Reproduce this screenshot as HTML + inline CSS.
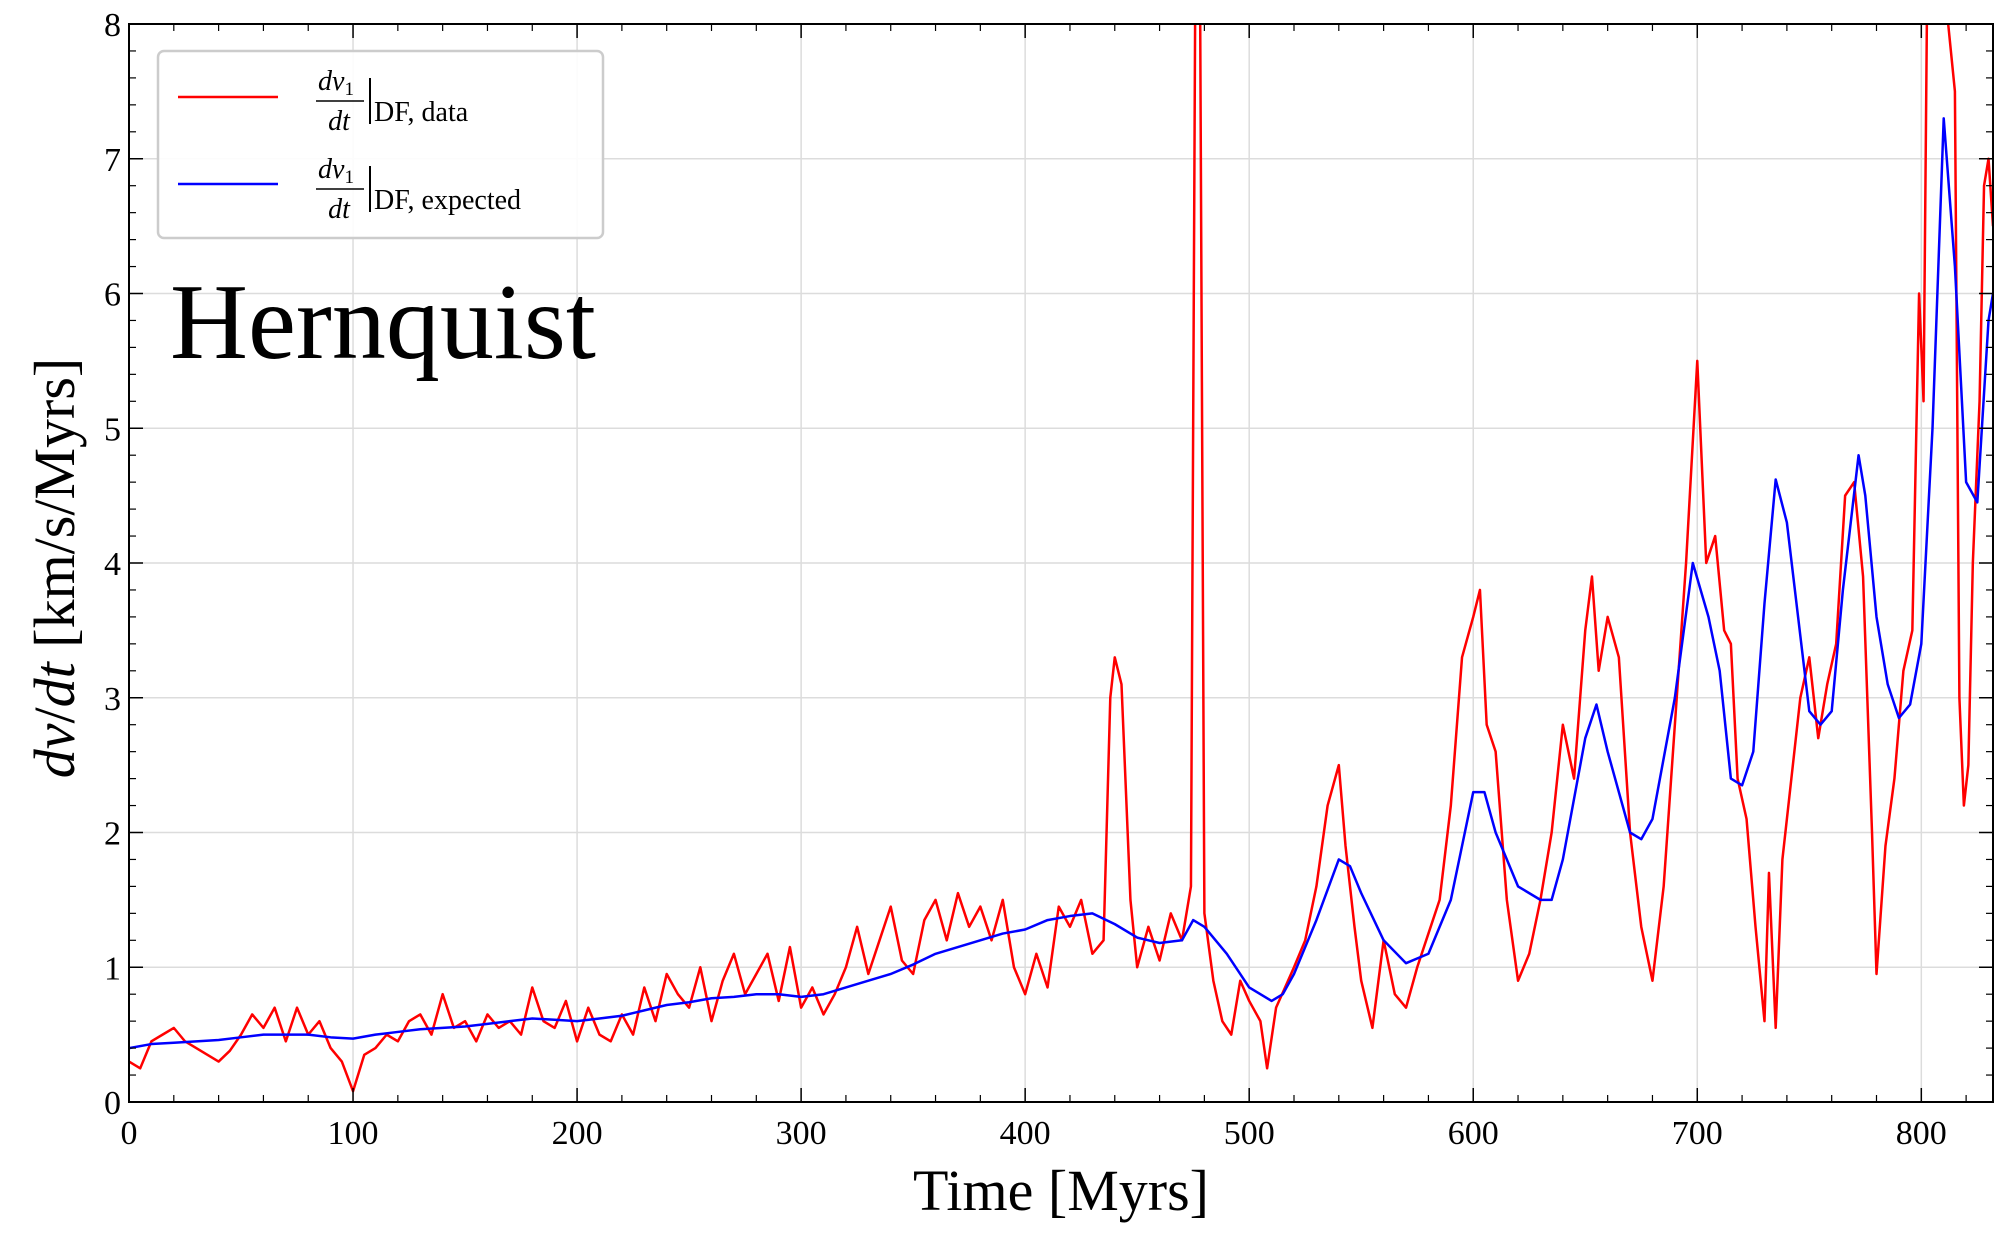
<!DOCTYPE html>
<html><head><meta charset="utf-8"><style>
html,body{margin:0;padding:0;background:#fff;}
svg{display:block;font-family:"Liberation Serif",serif;}
</style></head><body>
<svg id="chart" width="2003" height="1239" viewBox="0 0 2003 1239" xmlns="http://www.w3.org/2000/svg">
<defs><clipPath id="plotclip"><rect x="129" y="24" width="1864" height="1078"/></clipPath></defs>
<rect x="0" y="0" width="2003" height="1239" fill="#fff"/>
<g id="grid"></g>
<g id="series" clip-path="url(#plotclip)"></g>
<rect x="129" y="24" width="1864" height="1078" fill="none" stroke="#000" stroke-width="2"/>
<g id="ticks"></g>
<text x="1061" y="1210" font-size="58" text-anchor="middle">Time [Myrs]</text>
<text transform="translate(74,568) rotate(-90)" font-size="58" text-anchor="middle"><tspan font-style="italic">dv</tspan>/<tspan font-style="italic">dt</tspan> [km/s/Myrs]</text>
<text x="170" y="358" font-size="108">Hernquist</text>
<g>
<rect x="158" y="51" width="445" height="187" rx="6" fill="#fff" fill-opacity="0.9" stroke="#ccc" stroke-width="2.5"/>
<line x1="178" y1="97" x2="278" y2="97" stroke="#f00" stroke-width="2.5"/>
<g font-size="28">
<text x="336" y="90" font-style="italic" text-anchor="middle">dv<tspan font-size="19" dy="5" font-style="normal">1</tspan></text>
<line x1="316" y1="101" x2="364" y2="101" stroke="#000" stroke-width="1.5"/>
<text x="339" y="130" font-style="italic" text-anchor="middle">dt</text>
<line x1="370" y1="78" x2="370" y2="124" stroke="#000" stroke-width="2"/>
<text x="374" y="121">DF, data</text>
</g>
<line x1="178" y1="184" x2="278" y2="184" stroke="#00f" stroke-width="2.5"/>
<g font-size="28">
<text x="336" y="178" font-style="italic" text-anchor="middle">dv<tspan font-size="19" dy="5" font-style="normal">1</tspan></text>
<line x1="316" y1="189" x2="364" y2="189" stroke="#000" stroke-width="1.5"/>
<text x="339" y="218" font-style="italic" text-anchor="middle">dt</text>
<line x1="370" y1="166" x2="370" y2="212" stroke="#000" stroke-width="2"/>
<text x="374" y="209">DF, expected</text>
</g>
</g>
</svg>
<script>
const xTicks=[0,100,200,300,400,500,600,700,800];
const yTicks=[0,1,2,3,4,5,6,7,8];
const redT=[0,5,10,15,20,25,30,35,40,45,50,55,60,65,70,75,80,85,90,95,100,105,110,115,120,125,130,135,140,145,150,155,160,165,170,175,180,185,190,195,200,205,210,215,220,225,230,235,240,245,250,255,260,265,270,275,280,285,290,295,300,305,310,315,320,325,330,335,340,345,350,355,360,365,370,375,380,385,390,395,400,405,410,415,420,425,430,435,438,440,443,447,450,455,460,465,470,474,476,478,480,484,488,492,496,500,505,508,512,516,520,525,530,535,540,543,547,550,555,560,565,570,575,580,585,590,595,600,603,606,610,615,620,625,630,635,640,645,650,653,656,660,665,670,675,680,685,690,695,700,704,708,712,715,718,722,726,730,732,735,738,742,746,750,754,758,762,766,770,774,778,780,784,788,792,796,799,801,803,806,809,812,815,817,819,821,823,826,828,830,832];
const redV=[0.3,0.25,0.45,0.5,0.55,0.45,0.4,0.35,0.3,0.38,0.5,0.65,0.55,0.7,0.45,0.7,0.5,0.6,0.4,0.3,0.08,0.35,0.4,0.5,0.45,0.6,0.65,0.5,0.8,0.55,0.6,0.45,0.65,0.55,0.6,0.5,0.85,0.6,0.55,0.75,0.45,0.7,0.5,0.45,0.65,0.5,0.85,0.6,0.95,0.8,0.7,1.0,0.6,0.9,1.1,0.8,0.95,1.1,0.75,1.15,0.7,0.85,0.65,0.8,1.0,1.3,0.95,1.2,1.45,1.05,0.95,1.35,1.5,1.2,1.55,1.3,1.45,1.2,1.5,1.0,0.8,1.1,0.85,1.45,1.3,1.5,1.1,1.2,3.0,3.3,3.1,1.5,1.0,1.3,1.05,1.4,1.2,1.6,8.5,8.5,1.4,0.9,0.6,0.5,0.9,0.75,0.6,0.25,0.7,0.85,1.0,1.2,1.6,2.2,2.5,1.9,1.3,0.9,0.55,1.2,0.8,0.7,1.0,1.25,1.5,2.2,3.3,3.6,3.8,2.8,2.6,1.5,0.9,1.1,1.5,2.0,2.8,2.4,3.5,3.9,3.2,3.6,3.3,2.0,1.3,0.9,1.6,2.8,4.0,5.5,4.0,4.2,3.5,3.4,2.4,2.1,1.3,0.6,1.7,0.55,1.8,2.4,3.0,3.3,2.7,3.1,3.4,4.5,4.6,3.9,2.0,0.95,1.9,2.4,3.2,3.5,6.0,5.2,9,9,9,8,7.5,3,2.2,2.5,4.0,5.2,6.8,7.0,6.5];
const blueT=[0,10,20,30,40,50,60,70,80,90,100,110,120,130,140,150,160,170,180,190,200,210,220,230,240,250,260,270,280,290,300,310,320,330,340,350,360,370,380,390,400,410,420,430,440,450,460,470,475,480,490,500,510,515,520,530,540,545,550,560,570,580,590,600,605,610,620,630,635,640,650,655,660,670,675,680,690,698,705,710,715,720,725,730,735,740,745,750,755,760,765,772,775,780,785,790,795,800,805,810,815,820,825,830,832];
const blueV=[0.4,0.43,0.44,0.45,0.46,0.48,0.5,0.5,0.5,0.48,0.47,0.5,0.52,0.54,0.55,0.56,0.58,0.6,0.62,0.61,0.6,0.62,0.64,0.68,0.72,0.74,0.77,0.78,0.8,0.8,0.78,0.8,0.85,0.9,0.95,1.02,1.1,1.15,1.2,1.25,1.28,1.35,1.38,1.4,1.32,1.22,1.18,1.2,1.35,1.3,1.1,0.85,0.75,0.8,0.95,1.35,1.8,1.75,1.55,1.2,1.03,1.1,1.5,2.3,2.3,2.0,1.6,1.5,1.5,1.8,2.7,2.95,2.6,2.0,1.95,2.1,3.0,4.0,3.6,3.2,2.4,2.35,2.6,3.7,4.62,4.3,3.6,2.9,2.8,2.9,3.8,4.8,4.5,3.6,3.1,2.85,2.95,3.4,5.0,7.3,6.2,4.6,4.45,5.8,6.0];
const X0=129,X1=1993,XMAX=832,Y0=1102,Y1=24,YMAX=8;
const sx=v=>X0+(X1-X0)*v/XMAX;
const sy=v=>Y0-(Y0-Y1)*v/YMAX;
const NS="http://www.w3.org/2000/svg";
function mk(tag,attrs,parent){const e=document.createElementNS(NS,tag);for(const k in attrs)e.setAttribute(k,attrs[k]);parent.appendChild(e);return e;}
const grid=document.getElementById('grid'),ticks=document.getElementById('ticks'),series=document.getElementById('series');
xTicks.forEach(t=>{
 const g=mk('line',{x1:sx(t),x2:sx(t),y1:Y1,y2:Y0,stroke:'#dcdcdc','stroke-width':1.5},grid);
 
 
 mk('line',{x1:sx(t),x2:sx(t),y1:Y0,y2:Y0-14,stroke:'#000','stroke-width':1.5},ticks);
 mk('line',{x1:sx(t),x2:sx(t),y1:Y1,y2:Y1+14,stroke:'#000','stroke-width':1.5},ticks);
 const l=mk('text',{x:sx(t),y:Y0+42,'font-size':34,'text-anchor':'middle'},ticks);
 l.textContent=t;
 
 
});
for(let m=0;m<=XMAX;m+=20){if(m%100){mk('line',{x1:sx(m),x2:sx(m),y1:Y0,y2:Y0-7,stroke:'#000','stroke-width':1.2},ticks);mk('line',{x1:sx(m),x2:sx(m),y1:Y1,y2:Y1+7,stroke:'#000','stroke-width':1.2},ticks);}}
yTicks.forEach(t=>{
 if(t>0&&t<8){const g=mk('line',{x1:X0,x2:X1,y1:sy(t),y2:sy(t),stroke:'#dcdcdc','stroke-width':1.5},grid);
 
 }
 mk('line',{x1:X0,x2:X0+14,y1:sy(t),y2:sy(t),stroke:'#000','stroke-width':1.5},ticks);
 mk('line',{x1:X1,x2:X1-14,y1:sy(t),y2:sy(t),stroke:'#000','stroke-width':1.5},ticks);
 const l=mk('text',{x:X0-8,y:sy(t)+12,'font-size':34,'text-anchor':'end'},ticks);
 l.textContent=t;
 
 
});
for(let m=0;m<=YMAX;m+=0.2){if(Math.abs(m-Math.round(m))>0.01){mk('line',{x1:X0,x2:X0+7,y1:sy(m),y2:sy(m),stroke:'#000','stroke-width':1.2},ticks);mk('line',{x1:X1,x2:X1-7,y1:sy(m),y2:sy(m),stroke:'#000','stroke-width':1.2},ticks);}}
const red=mk('polyline',{points:redT.map((t,i)=>sx(t)+','+sy(redV[i])).join(' '),fill:'none',stroke:'#f00','stroke-width':2.5,'stroke-linejoin':'round'},series);


const blue=mk('polyline',{points:blueT.map((t,i)=>sx(t)+','+sy(blueV[i])).join(' '),fill:'none',stroke:'#00f','stroke-width':2.5,'stroke-linejoin':'round'},series);


</script>
</body></html>
